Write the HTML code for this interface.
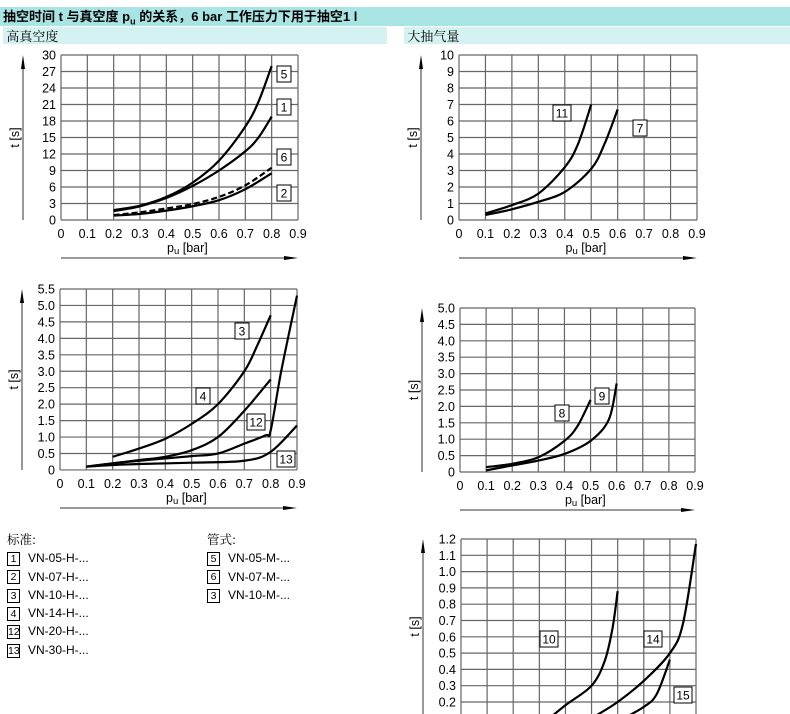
<!DOCTYPE html><html><head><meta charset="utf-8"><style>
body{margin:0;width:790px;height:714px;overflow:hidden;background:#fff;font-family:"Liberation Sans","Noto Sans CJK SC",sans-serif}
.t{position:absolute;left:0;top:7px;width:790px;height:19px;background:#a8e4e4;font-weight:bold;font-size:13px;line-height:19px;text-indent:3px}
.s{position:absolute;top:27px;height:17px;background:#d4f2f2;font-size:13px;line-height:17px;font-family:"Noto Serif CJK SC",serif}
.lg{position:absolute;font-size:12px;line-height:18.3px}
.lg b{font-weight:normal;font-family:"Noto Serif CJK SC",serif;font-size:12.5px}
.bx{display:inline-block;width:11px;height:12px;border:1px solid #000;font-size:10.5px;line-height:12px;text-align:center;margin-right:8px;vertical-align:middle}
</style></head><body>
<div class="t">抽空时间 t 与真空度 p<sub style="font-size:9px">u</sub> 的关系，6 bar 工作压力下用于抽空1 l</div>
<div class="s" style="left:3px;width:384px">&nbsp;高真空度</div>
<div class="s" style="left:404px;width:386px">&nbsp;大抽气量</div>
<svg id="g" width="790" height="714" style="position:absolute;left:0;top:0" font-family="Liberation Sans, sans-serif" font-size="12.5"></svg>
<div class="lg" style="left:7px;top:530px"><b>标准:</b><br><span class="bx">1</span>VN-05-H-...<br><span class="bx">2</span>VN-07-H-...<br><span class="bx">3</span>VN-10-H-...<br><span class="bx">4</span>VN-14-H-...<br><span class="bx">12</span>VN-20-H-...<br><span class="bx">13</span>VN-30-H-...</div>
<div class="lg" style="left:207px;top:530px"><b>管式:</b><br><span class="bx">5</span>VN-05-M-...<br><span class="bx">6</span>VN-07-M-...<br><span class="bx">3</span>VN-10-M-...</div>
<script>
var s='';
function chart(o){
 var x0=o.x0,x9=o.x9,yt=o.yt,rows=o.rows,rh=o.rh,yb=yt+rows*rh,dx=(x9-x0)/9;
 var X=function(p){return x0+p*dx/0.1},Y=function(t){return yb-(t-o.ymin)/o.step*rh};
 for(var i=0;i<=9;i++){s+='<line x1="'+(x0+i*dx)+'" y1="'+yt+'" x2="'+(x0+i*dx)+'" y2="'+Math.min(yb,714)+'" stroke="#666" stroke-width="1.2"/>';
  if(o.xl)s+='<text x="'+(x0+i*dx)+'" y="'+(yb+18)+'" text-anchor="middle">'+(i==0?'0':'0.'+i)+'</text>';}
 for(var j=0;j<=rows;j++){var y=yt+j*rh;if(y>714)break;s+='<line x1="'+x0+'" y1="'+y+'" x2="'+x9+'" y2="'+y+'" stroke="#666" stroke-width="1.2"/>';
  s+='<text x="'+(x0-5)+'" y="'+(y+4.5)+'" text-anchor="end">'+o.lab[j]+'</text>';}
 var ax=x0-38;s+='<line x1="'+ax+'" y1="'+(yt+4)+'" x2="'+ax+'" y2="'+Math.min(yb,714)+'" stroke="#333"/><path d="M'+(ax-2)+' '+(yt+14)+'L'+ax+' '+yt+'L'+(ax+2)+' '+(yt+14)+'Z"/>';
 s+='<text transform="translate('+(ax-4)+','+(yt+(Math.min(yb,714)-yt)/2)+') rotate(-90)" text-anchor="middle">t [s]</text>';
 if(o.xl){s+='<text x="'+(x0+4.8*dx)+'" y="'+(yb+32)+'" text-anchor="middle">p<tspan font-size="9.5" dy="2">u</tspan><tspan dy="-2"> [bar]</tspan></text>';
  s+='<line x1="'+x0+'" y1="'+(yb+38)+'" x2="'+(x9-10)+'" y2="'+(yb+38)+'" stroke="#333"/><path d="M'+(x9-14)+' '+(yb+36)+'L'+x9+' '+(yb+38)+'L'+(x9-14)+' '+(yb+40)+'Z"/>';}
 o.c.forEach(function(c){var p=c.p.map(function(a){return [X(a[0]),Y(a[1])]});var d='M'+p[0];
  for(var k=0;k<p.length-1;k++){var a=p[k-1]||p[k],b=p[k],e=p[k+1],f=p[k+2]||e;
   d+='C'+(b[0]+(e[0]-a[0])/6)+','+(b[1]+(e[1]-a[1])/6)+' '+(e[0]-(f[0]-b[0])/6)+','+(e[1]-(f[1]-b[1])/6)+' '+e;}
  s+='<path d="'+d+'" fill="none" stroke="#000" stroke-width="2.2"'+(c.dash?' stroke-dasharray="6,3"':'')+'/>';});
 o.b.forEach(function(b){var w=b[0].length>1?18:14;s+='<rect x="'+(b[1]-w/2)+'" y="'+(b[2]-8)+'" width="'+w+'" height="16" fill="#fff" stroke="#000"/><text x="'+b[1]+'" y="'+(b[2]+4.5)+'" text-anchor="middle" font-size="12">'+b[0]+'</text>';});
}
function L(n,st,dec){var r=[];for(var i=n;i>=0;i--){var v=i*st;r.push(dec?(v===0?'0':v.toFixed(1)):v);}return r;}
chart({x0:61,x9:298,yt:55,rows:10,rh:16.5,ymin:0,step:3,lab:L(10,3),xl:1,
 c:[{p:[[.2,1.8],[.3,2.6],[.4,4.2],[.5,6.8],[.6,10.8],[.7,17],[.75,21.5],[.8,28]]},
 {p:[[.2,1.6],[.3,2.5],[.4,4],[.5,6.2],[.6,9],[.7,12.5],[.75,15],[.8,18.8]]},
 {p:[[.2,.9],[.3,1.4],[.4,2.1],[.5,2.9],[.6,4.2],[.7,6.3],[.8,9.5]],dash:1},
 {p:[[.2,.8],[.3,1.1],[.4,1.7],[.5,2.5],[.6,3.6],[.7,5.6],[.8,8.5]]}],
 b:[['5',284,74],['1',284,107],['6',284,157],['2',284,193]]});
chart({x0:60,x9:297,yt:289,rows:11,rh:16.45,ymin:0,step:.5,lab:L(11,.5,1),xl:1,
 c:[{p:[[.2,.4],[.3,.65],[.4,.95],[.5,1.4],[.6,2],[.7,3],[.75,3.8],[.8,4.7]]},
 {p:[[.1,.1],[.2,.2],[.3,.3],[.4,.4],[.5,.6],[.6,1],[.7,1.8],[.8,2.75]]},
 {p:[[.1,.1],[.2,.2],[.3,.28],[.4,.35],[.5,.42],[.6,.5],[.7,.8],[.78,1.05],[.8,1.2],[.84,3],[.9,5.3]]},
 {p:[[.1,.1],[.2,.15],[.3,.18],[.5,.22],[.7,.28],[.8,.55],[.9,1.35]]}],
 b:[['3',242,331],['4',203,396],['12',256,422],['13',286,459]]});
chart({x0:459,x9:697,yt:55,rows:10,rh:16.5,ymin:0,step:1,lab:L(10,1),xl:1,
 c:[{p:[[.1,.4],[.2,.9],[.3,1.6],[.4,3.2],[.45,4.6],[.5,7]]},
 {p:[[.1,.3],[.2,.65],[.3,1.1],[.4,1.7],[.5,3.1],[.55,4.6],[.6,6.7]]}],
 b:[['11',562,113],['7',640,128]]});
chart({x0:460,x9:695,yt:308,rows:10,rh:16.4,ymin:0,step:.5,lab:L(10,.5,1),xl:1,
 c:[{p:[[.1,.15],[.2,.25],[.3,.45],[.4,.95],[.45,1.4],[.5,2.2]]},
 {p:[[.1,.05],[.2,.2],[.3,.35],[.4,.55],[.5,.95],[.57,1.6],[.6,2.7]]}],
 b:[['8',562,413],['9',602,396]]});
chart({x0:461,x9:696,yt:539,rows:12,rh:16.3,ymin:0,step:.1,lab:L(12,.1,1),xl:0,
 c:[{p:[[.3,.05],[.4,.18],[.5,.3],[.55,.45],[.58,.65],[.6,.88]]},
 {p:[[.45,.05],[.5,.1],[.6,.2],[.7,.33],[.8,.5],[.85,.68],[.9,1.17]]},
 {p:[[.55,.04],[.6,.08],[.7,.17],[.75,.25],[.8,.46]]}],
 b:[['10',549,639],['14',653,639],['15',683,695]]});
document.getElementById('g').innerHTML=s;
</script>
</body></html>
